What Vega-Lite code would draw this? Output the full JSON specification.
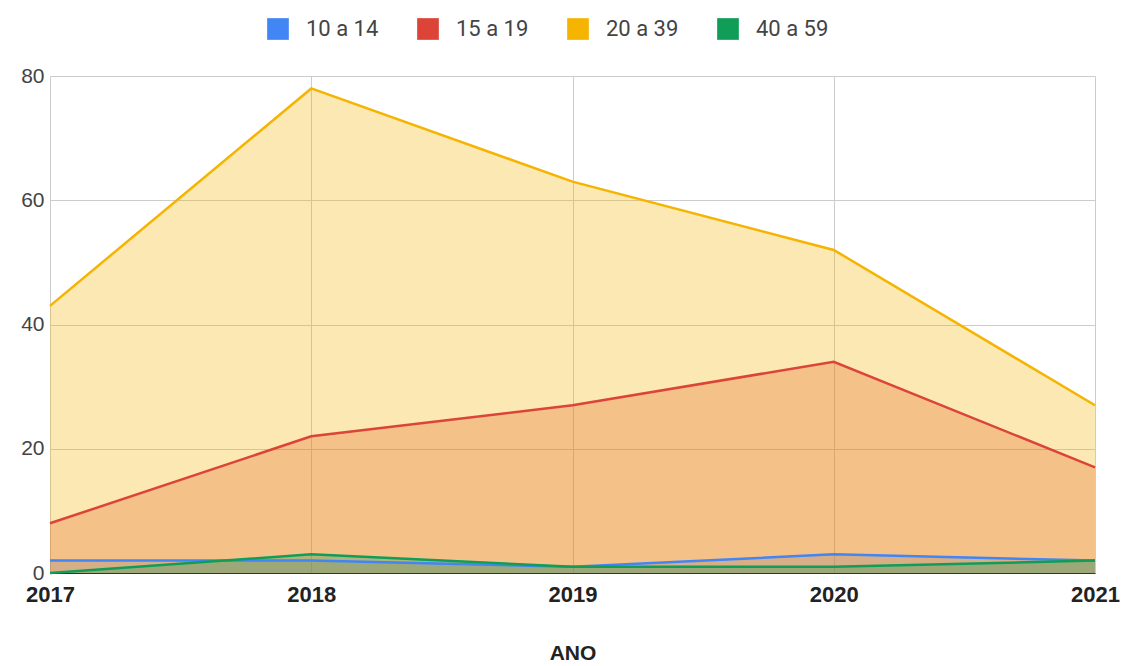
{
  "$schema": "https://vega.github.io/schema/vega-lite/v6.json",
  "width": 1045,
  "height": 497,
  "autosize": {"type": "none"},
  "padding": {"left": 50, "top": 76, "right": 34, "bottom": 93},
  "background": "white",
  "config": {
    "view": {"stroke": null},
    "font": "Roboto"
  },
  "data": {
    "values": [
      {"ano": "2017", "faixa": "10 a 14", "valor": 2},
      {"ano": "2018", "faixa": "10 a 14", "valor": 2},
      {"ano": "2019", "faixa": "10 a 14", "valor": 1},
      {"ano": "2020", "faixa": "10 a 14", "valor": 3},
      {"ano": "2021", "faixa": "10 a 14", "valor": 2},
      {"ano": "2017", "faixa": "15 a 19", "valor": 8},
      {"ano": "2018", "faixa": "15 a 19", "valor": 22},
      {"ano": "2019", "faixa": "15 a 19", "valor": 27},
      {"ano": "2020", "faixa": "15 a 19", "valor": 34},
      {"ano": "2021", "faixa": "15 a 19", "valor": 17},
      {"ano": "2017", "faixa": "20 a 39", "valor": 43},
      {"ano": "2018", "faixa": "20 a 39", "valor": 78},
      {"ano": "2019", "faixa": "20 a 39", "valor": 63},
      {"ano": "2020", "faixa": "20 a 39", "valor": 52},
      {"ano": "2021", "faixa": "20 a 39", "valor": 27},
      {"ano": "2017", "faixa": "40 a 59", "valor": 0},
      {"ano": "2018", "faixa": "40 a 59", "valor": 3},
      {"ano": "2019", "faixa": "40 a 59", "valor": 1},
      {"ano": "2020", "faixa": "40 a 59", "valor": 1},
      {"ano": "2021", "faixa": "40 a 59", "valor": 2}
    ]
  },
  "encoding": {
    "x": {
      "field": "ano",
      "type": "ordinal",
      "scale": {"type": "point", "padding": 0},
      "axis": {
        "title": "ANO",
        "labelAngle": 0,
        "labelFont": "Liberation Sans",
        "labelFontWeight": "bold",
        "labelFontSize": 22,
        "labelColor": "#222222",
        "labelPadding": 11,
        "ticks": false,
        "domainColor": "#333333",
        "domainWidth": 1,
        "grid": true,
        "gridColor": "#cccccc",
        "titleFont": "Liberation Sans",
        "titleFontSize": 21,
        "titleFontWeight": "bold",
        "titleColor": "#222222",
        "titlePadding": 37
      }
    },
    "y": {
      "field": "valor",
      "type": "quantitative",
      "stack": null,
      "scale": {"domain": [0, 80]},
      "axis": {
        "title": null,
        "values": [0, 20, 40, 60, 80],
        "labelFont": "Liberation Sans",
        "labelFontSize": 21,
        "labelColor": "#444444",
        "labelPadding": 6,
        "ticks": false,
        "domain": false,
        "gridColor": "#cccccc"
      }
    },
    "color": {
      "field": "faixa",
      "type": "nominal",
      "scale": {
        "domain": ["10 a 14", "15 a 19", "20 a 39", "40 a 59"],
        "range": ["#4285F4", "#DB4437", "#F4B400", "#0F9D58"]
      },
      "legend": {
        "title": null,
        "orient": "none",
        "direction": "horizontal",
        "legendX": 217,
        "legendY": -58,
        "symbolType": "square",
        "symbolSize": 470,
        "symbolOpacity": 1,
        "symbolStrokeWidth": 0,
        "labelFontSize": 22,
        "labelColor": "#444444",
        "labelOffset": 17,
        "columnPadding": 38
      }
    }
  },
  "layer": [
    {"mark": {"type": "area", "opacity": 0.3}},
    {"mark": {"type": "line", "strokeWidth": 2.5}}
  ]
}
